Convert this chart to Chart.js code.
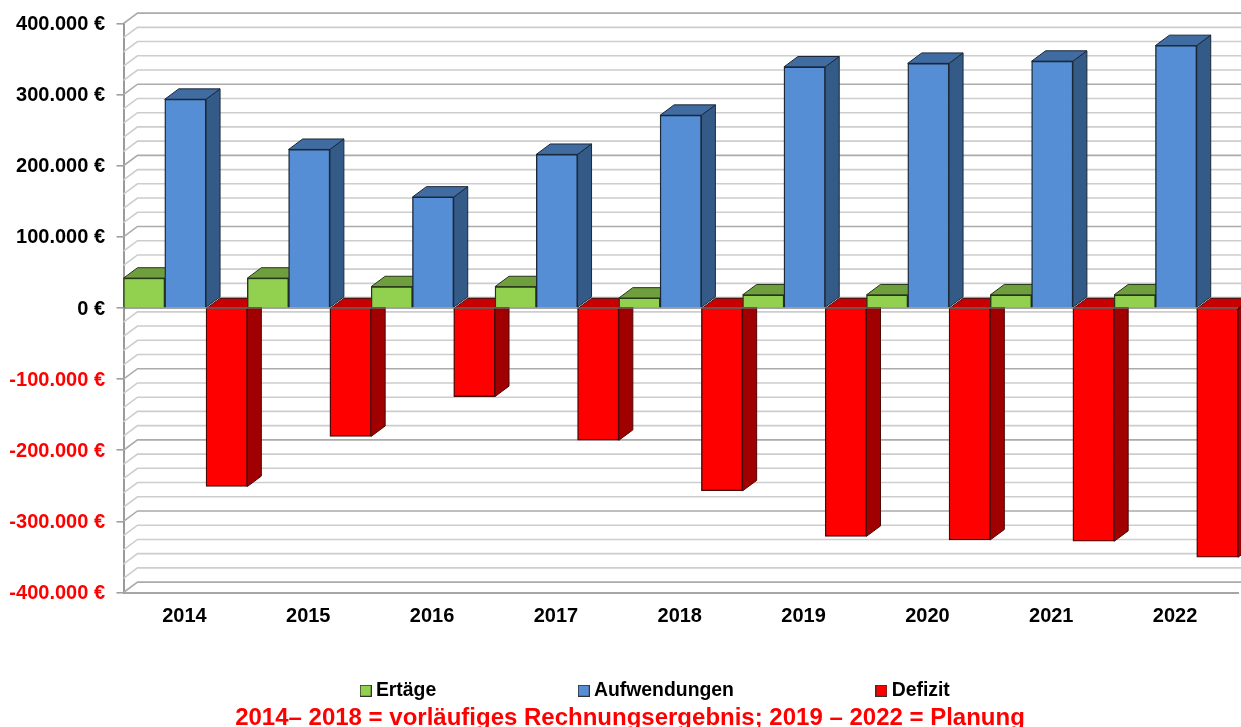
<!DOCTYPE html>
<html lang="de">
<head>
<meta charset="utf-8">
<title>Ertäge, Aufwendungen, Defizit</title>
<style>html,body{margin:0;padding:0;background:#fff}canvas{display:block}</style>
<script src="https://cdn.jsdelivr.net/npm/chart.js@4/dist/chart.umd.min.js"></script>
</head>
<body>
<canvas id="c" width="1241" height="727"></canvas>
<script>
const categories = ['2014','2015','2016','2017','2018','2019','2020','2021','2022'];
const ertaege = [42000,42000,30000,30000,14000,18500,18500,18500,18500];
const aufwendungen = [293500,223000,156000,216000,271000,339000,344000,347000,369000];
const defizit = [-251000,-180500,-124500,-186000,-257000,-321000,-326000,-328000,-350500];
const seriesNames = ['Ertäge','Aufwendungen','Defizit'];
const noteText = '2014– 2018 = vorläufiges Rechnungsergebnis; 2019 – 2022 = Planung';

const palette = [
  {front:'#92D050', top:'#6F9E3C', side:'#587F30', edge:'#26361a'},
  {front:'#558ED5', top:'#416CA2', side:'#345A87', edge:'#1b2838'},
  {front:'#FF0000', top:'#C80000', side:'#A00000', edge:'#4a0808'}
];
const depthX = 14, depthY = 10.4;

function legendSwatch(color){
  const s = document.createElement('canvas');
  s.width = 12; s.height = 12;
  const g = s.getContext('2d');
  g.fillStyle = color; g.fillRect(0,0,12,12);
  g.strokeStyle = '#333'; g.lineWidth = 1; g.strokeRect(.5,.5,11,11);
  return s;
}

function poly(ctx, pts, fill, edge){
  ctx.beginPath();
  pts.forEach((p,i)=> i ? ctx.lineTo(p[0],p[1]) : ctx.moveTo(p[0],p[1]));
  ctx.closePath();
  ctx.fillStyle = fill; ctx.fill();
  ctx.strokeStyle = edge; ctx.lineWidth = 1; ctx.stroke();
}

const LEGEND_PAD = 147;
const scene3d = {
  id:'scene3d',
  beforeLayout(chart){
    const l = chart.legend;
    if (l && !l._fitWrapped){
      const fit = l.fit;
      l.fit = function(){ fit.call(this); this.height = 30; };
      l._fitWrapped = true;
    }
  },
  afterLayout(chart){
    const l = chart.legend;
    l.left += 38.5; l.right += 38.5;
    l.top = 691 - LEGEND_PAD - 10;
    l.bottom = chart.height;
    const t = chart.titleBlock;
    t.left += 11; t.right += 11;
    t.top = 703.5;
  },
  beforeDatasetsDraw(chart){
    const ctx = chart.ctx, y = chart.scales.y, a = chart.chartArea;
    ctx.save();
    y.ticks.forEach(t=>{
      const py = y.getPixelForValue(t.value);
      const major = t.value % 100000 === 0;
      ctx.strokeStyle = major ? '#ababab' : '#cdcdcd';
      ctx.lineWidth = 1.6;
      ctx.beginPath();
      ctx.moveTo(a.left, py);
      ctx.lineTo(a.left+depthX, py-depthY);
      ctx.lineTo(chart.width, py-depthY);
      ctx.stroke();
    });
    categories.forEach((_,i)=>{
      chart.data.datasets.forEach((ds,j)=>{
        const bar = chart.getDatasetMeta(j).data[i];
        const l = bar.x - bar.width/2, r = bar.x + bar.width/2;
        const top = Math.min(bar.y, bar.base), bot = Math.max(bar.y, bar.base);
        poly(ctx, [[r,top],[r+depthX,top-depthY],[r+depthX,bot-depthY],[r,bot]], palette[j].side, palette[j].edge);
        poly(ctx, [[l,top],[l+depthX,top-depthY],[r+depthX,top-depthY],[r,top]], palette[j].top, palette[j].edge);
        bar.draw(ctx);
      });
    });
    // category axis crosses at zero, over the bars
    const zero = y.getPixelForValue(0);
    ctx.strokeStyle = 'rgba(110,110,110,0.85)'; ctx.lineWidth = 1.6;
    ctx.beginPath(); ctx.moveTo(a.left, zero); ctx.lineTo(a.right, zero); ctx.stroke();
    ctx.restore();
    return false;
  }
};

const font = {family:'"Liberation Sans", Arial, sans-serif', weight:'bold', size:20};
const euro = v => String(v).replace(/\B(?=(\d{3})+(?!\d))/g,'.') + ' €';

new Chart(document.getElementById('c'), {
  type:'bar',
  data:{
    labels:categories,
    datasets:[ertaege, aufwendungen, defizit].map((d,j)=>({
      label:seriesNames[j], data:d,
      backgroundColor:palette[j].front,
      borderColor:palette[j].edge, borderWidth:1.4, borderSkipped:'start',
      barPercentage:1, categoryPercentage:1
    }))
  },
  plugins:[scene3d],
  options:{
    responsive:false, animation:false,
    layout:{padding:{left:0,right:3,top:22.5,bottom:0}},
    plugins:{
      tooltip:{enabled:false},
      title:{
        display:true, position:'bottom', text:noteText, color:'#ff0000',
        padding:0,
        font:{family:font.family, weight:'bold', size:24}
      },
      legend:{
        position:'bottom',
        labels:{
          padding:LEGEND_PAD, color:'#000', usePointStyle:true, pointStyleWidth:1,
          font:{family:font.family, weight:'bold', size:19.4},
          generateLabels(chart){
            return chart.data.datasets.map((ds,j)=>({
              text:ds.label, datasetIndex:j, fontColor:'#000',
              fillStyle:palette[j].front, strokeStyle:'#333', lineWidth:1,
              pointStyle:legendSwatch(palette[j].front)
            }));
          }
        }
      }
    },
    scales:{
      x:{
        grid:{display:true, drawOnChartArea:false, drawTicks:false},
        border:{display:true, color:'#a6a6a6', width:2},
        ticks:{color:'#000', font, padding:12, maxRotation:0, labelOffset:-1},
        afterFit(s){ s.height = 134.5 - 30 - 28.8; }
      },
      y:{
        min:-400000, max:400000,
        grid:{drawOnChartArea:false, drawTicks:true, tickLength:7,
          tickColor:c=> (c.tick && c.tick.value % 100000 === 0) ? '#a0a0a0' : 'rgba(0,0,0,0)', lineWidth:1.6},
        border:{display:true, color:'#9a9a9a', width:2},
        ticks:{
          stepSize:20000, autoSkip:false, padding:11.5, font, labelOffset:1,
          color:c=> c.tick.value < 0 ? '#ff0000' : '#000',
          callback:v=> v % 100000 === 0 ? euro(v) : ''
        },
        afterFit(s){ s.width = 123.5; }
      }
    }
  }
});
</script>
</body>
</html>
